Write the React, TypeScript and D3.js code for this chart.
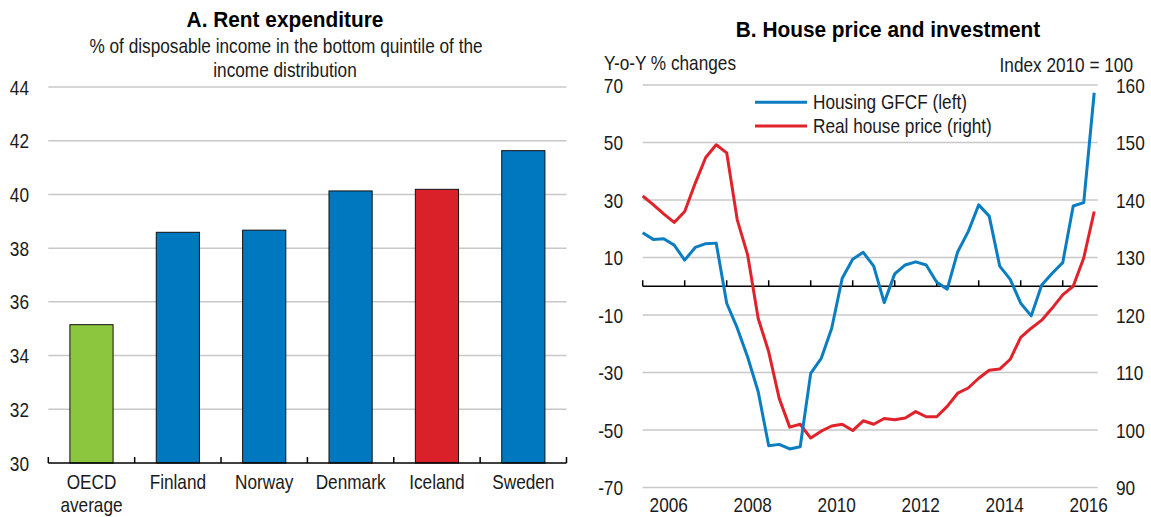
import React from "react";
import * as d3 from "d3";

// ---------- Panel A data ----------
const rentCategories = ["OECD average", "Finland", "Norway", "Denmark", "Iceland", "Sweden"];
const rentLabels = [["OECD", "average"], ["Finland"], ["Norway"], ["Denmark"], ["Iceland"], ["Sweden"]];
const rentValues = [35.15, 38.59, 38.67, 40.13, 40.19, 41.63];
const rentTicks = [30, 32, 34, 36, 38, 40, 42, 44];

// ---------- Panel B data ----------
const quarters = [
  "2006Q1", "2006Q2", "2006Q3", "2006Q4", "2007Q1", "2007Q2", "2007Q3", "2007Q4",
  "2008Q1", "2008Q2", "2008Q3", "2008Q4", "2009Q1", "2009Q2", "2009Q3", "2009Q4",
  "2010Q1", "2010Q2", "2010Q3", "2010Q4", "2011Q1", "2011Q2", "2011Q3", "2011Q4",
  "2012Q1", "2012Q2", "2012Q3", "2012Q4", "2013Q1", "2013Q2", "2013Q3", "2013Q4",
  "2014Q1", "2014Q2", "2014Q3", "2014Q4", "2015Q1", "2015Q2", "2015Q3", "2015Q4",
  "2016Q1", "2016Q2", "2016Q3", "2016Q4",
];
const housingGFCF = [
  18.6, 16.3, 16.5, 14.3, 9.1, 13.5, 14.8, 15.0, -5.9, -14.5, -24.7, -36.7,
  -55.5, -55.0, -56.6, -55.8, -30.3, -25.1, -14.6, 2.8, 9.4, 11.8, 7.0, -5.7,
  4.3, 7.4, 8.5, 7.4, 1.4, -1.0, 12.0, 19.0, 28.3, 24.4, 7.0, 2.4,
  -5.9, -10.3, 0.4, 4.5, 8.2, 27.9, 29.1, 67.3,
];
const realHousePrice = [
  140.7, 139.2, 137.6, 136.1, 138.0, 142.9, 147.4, 149.6, 148.2, 136.6, 130.4, 119.4,
  113.6, 105.5, 100.5, 101.0, 98.6, 99.8, 100.7, 101.0, 99.9, 101.6, 101.0, 102.0,
  101.8, 102.1, 103.2, 102.3, 102.3, 104.1, 106.4, 107.3, 109.0, 110.4, 110.6, 112.3,
  116.1, 117.7, 119.1, 121.2, 123.5, 125.0, 129.9, 138.0,
];
const leftTicks = [-70, -50, -30, -10, 10, 30, 50, 70];
const rightTicks = [90, 100, 110, 120, 130, 140, 150, 160];
const yearTicks = [2006, 2007, 2008, 2009, 2010, 2011, 2012, 2013, 2014, 2015, 2016];
const yearLabels = [2006, 2008, 2010, 2012, 2014, 2016];
const seriesNames = ["Housing GFCF (left)", "Real house price (right)"];

// ---------- styles ----------
const FONT = "'Liberation Sans',Arial,sans-serif";
const BLUE = "#0078BF";
const RED = "#DA2129";
const GREEN = "#8CC63F";
const LINE_BLUE = "#0B7DC1";
const LINE_RED = "#E0232B";
const GRID = "#C8C8C8";
const TEXT = "#1a1a1a";
const FS = 21; // body font size
const SX = 0.82; // horizontal condensation (narrow look)

function quarterToTime(q: string) {
  const y = +q.slice(0, 4);
  const n = +q.slice(5);
  return y + (n - 1) / 4;
}

type TProps = {
  x: number;
  y: number;
  anchor?: "start" | "middle" | "end";
  size?: number;
  sx?: number;
  bold?: boolean;
  children: React.ReactNode;
};
function T({ x, y, anchor = "start", size = FS, sx = SX, bold = false, children }: TProps) {
  return (
    <text
      transform={`translate(${x},${y}) scale(${sx},1)`}
      textAnchor={anchor}
      fontFamily={FONT}
      fontSize={size}
      fontWeight={bold ? "bold" : "normal"}
      fill={bold ? "#000" : TEXT}
    >
      {children}
    </text>
  );
}

export default function App() {
  // Panel A scales
  const ax = d3.scaleBand<string>().domain(rentCategories).range([48.3, 566.5]).paddingInner(0.5).paddingOuter(0.25);
  const ay = d3.scaleLinear().domain([30, 44]).range([463, 87]);
  const bandEdges = rentCategories.map((c) => (ax(c) as number) - ax.step() * 0.25).concat([566.5]);

  // Panel B scales
  const bx = d3.scaleLinear().domain([2006, 2016.833]).range([642.7, 1097.7]);
  const byL = d3.scaleLinear().domain([-70, 70]).range([487.5, 85]);
  const byR = d3.scaleLinear().domain([90, 160]).range([487.5, 85]);
  const times = quarters.map(quarterToTime);
  const lineL = d3.line<number>().x((_, i) => bx(times[i])).y((d) => byL(d));
  const lineR = d3.line<number>().x((_, i) => bx(times[i])).y((d) => byR(d));

  const barColor = (c: string) => (c === "OECD average" ? GREEN : c === "Iceland" ? RED : BLUE);

  return (
    <svg width={1151} height={517} style={{ display: "block", position: "absolute", left: 0, top: 0, background: "#fff" }}>
      {/* ---------------- Panel A ---------------- */}
      <T x={285} y={27} anchor="middle" size={21.5} sx={0.97} bold>
        A. Rent expenditure
      </T>
      <T x={286} y={53} anchor="middle">
        % of disposable income in the bottom quintile of the
      </T>
      <T x={285} y={77} anchor="middle">
        income distribution
      </T>
      {rentTicks.filter((t) => t !== 30).map((t) => (
        <line key={"ag" + t} x1={48.3} x2={566.5} y1={ay(t)} y2={ay(t)} stroke={GRID} strokeWidth={1.5} />
      ))}
      {rentTicks.map((t) => (
        <T key={"at" + t} x={29} y={ay(t) + 7.5} anchor="end">
          {t}
        </T>
      ))}
      {rentCategories.map((c, i) => (
        <rect
          key={"bar" + c}
          x={ax(c)}
          width={ax.bandwidth()}
          y={ay(rentValues[i])}
          height={ay(30) - ay(rentValues[i])}
          fill={barColor(c)}
          stroke="#111"
          strokeWidth={1}
        />
      ))}
      <line x1={48.3} x2={566.5} y1={ay(30)} y2={ay(30)} stroke="#000" strokeWidth={1.5} />
      {bandEdges.map((x, i) => (
        <line key={"atk" + i} x1={x} x2={x} y1={ay(30)} y2={ay(30) - 6} stroke="#000" strokeWidth={1.5} />
      ))}
      {rentCategories.map((c, i) =>
        rentLabels[i].map((l, j) => (
          <T key={"al" + c + j} x={(ax(c) as number) + ax.bandwidth() / 2} y={489 + j * 23} anchor="middle">
            {l}
          </T>
        ))
      )}

      {/* ---------------- Panel B ---------------- */}
      <T x={888} y={37} anchor="middle" size={21.5} sx={0.97} bold>
        B. House price and investment
      </T>
      <T x={604} y={70}>Y-o-Y % changes</T>
      <T x={1133} y={71.5} anchor="end">
        Index 2010 = 100
      </T>
      {leftTicks.map((t) => (
        <line key={"bg" + t} x1={642.7} x2={1097.7} y1={byL(t)} y2={byL(t)} stroke={GRID} strokeWidth={1.5} />
      ))}
      {leftTicks.map((t) => (
        <T key={"blt" + t} x={623} y={byL(t) + 7.5} anchor="end">
          {t}
        </T>
      ))}
      {rightTicks.map((t) => (
        <T key={"brt" + t} x={1116} y={byR(t) + 7.5}>
          {t}
        </T>
      ))}
      <line x1={642.7} x2={1097.7} y1={byL(0)} y2={byL(0)} stroke="#000" strokeWidth={1.5} />
      {yearTicks.map((y) => (
        <line key={"byt" + y} x1={bx(y)} x2={bx(y)} y1={byL(0)} y2={byL(0) - 6} stroke="#000" strokeWidth={1.5} />
      ))}
      {yearLabels.map((y) => (
        <T key={"byl" + y} x={bx(y + 0.62)} y={511.5} anchor="middle">
          {y}
        </T>
      ))}
      <path d={lineR(realHousePrice) || ""} fill="none" stroke={LINE_RED} strokeWidth={3} strokeLinejoin="round" />
      <path d={lineL(housingGFCF) || ""} fill="none" stroke={LINE_BLUE} strokeWidth={3} strokeLinejoin="round" />

      {/* legend */}
      {seriesNames.map((s, i) => (
        <g key={"lg" + s}>
          <line x1={755} x2={807} y1={102.3 + i * 23.7} y2={102.3 + i * 23.7} stroke={i === 0 ? LINE_BLUE : LINE_RED} strokeWidth={3} />
          <T x={813} y={109.3 + i * 23.7}>
            {s}
          </T>
        </g>
      ))}
    </svg>
  );
}
